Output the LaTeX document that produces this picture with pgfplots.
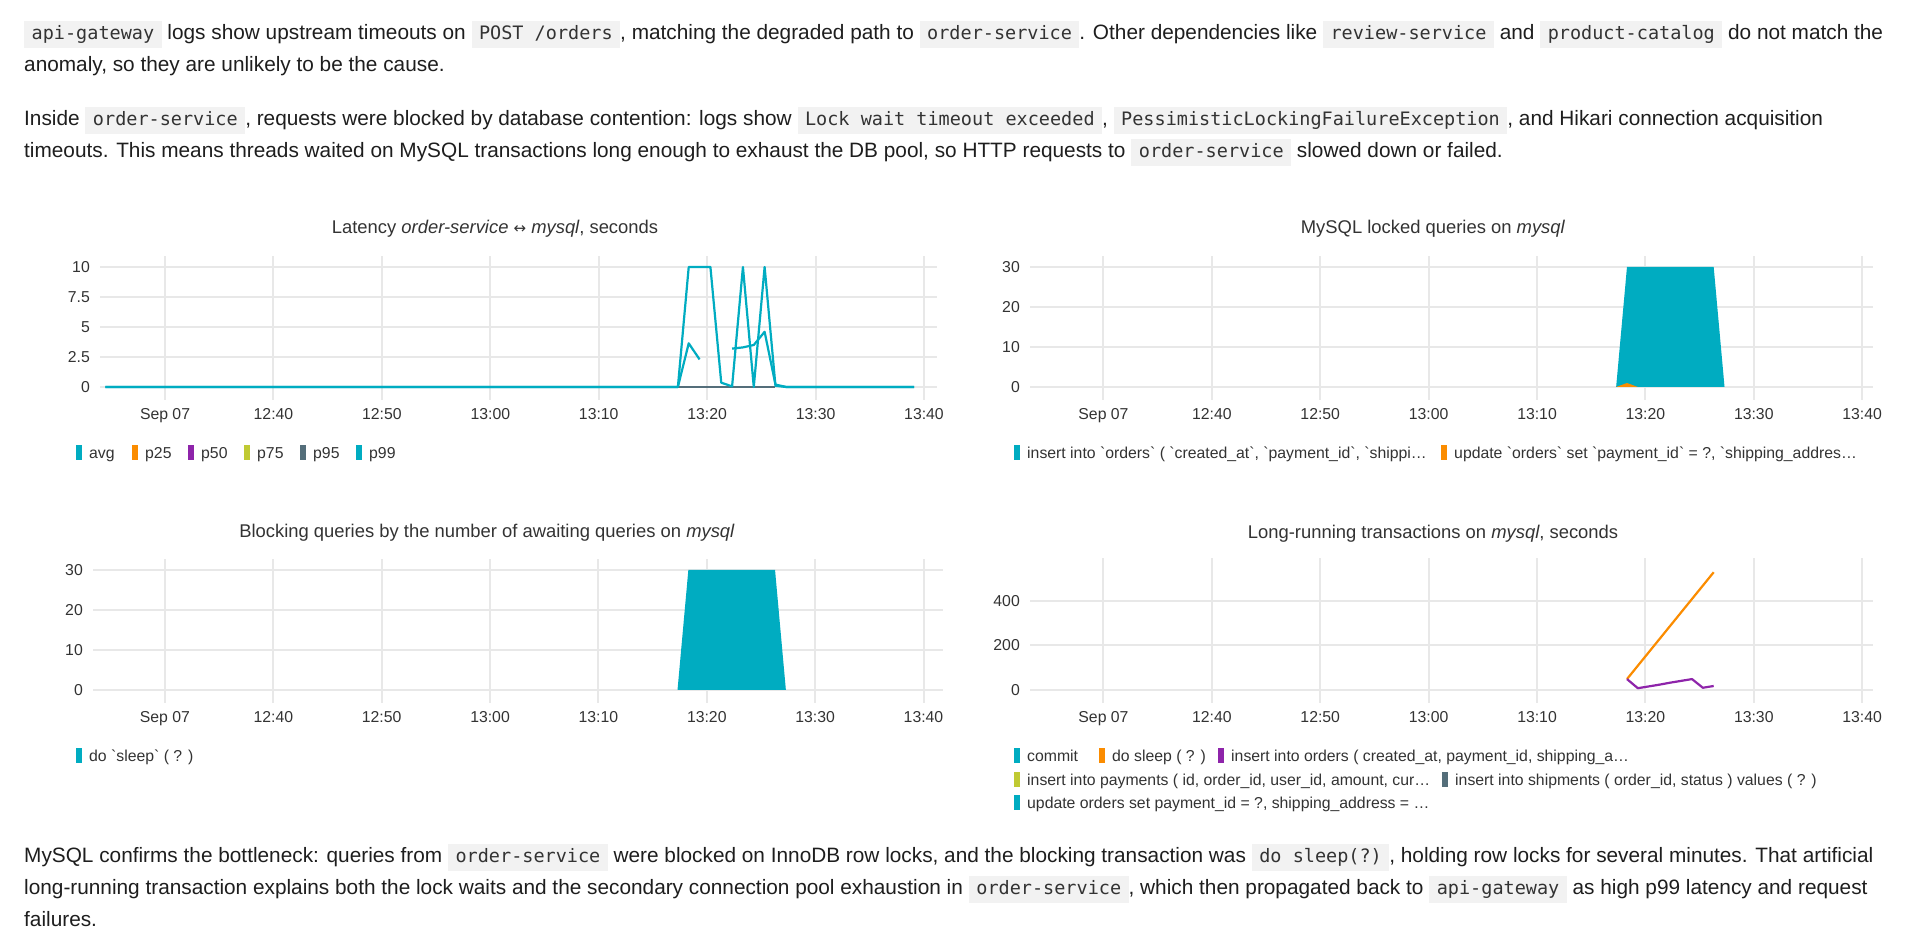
\documentclass[border=0pt]{standalone}
\usepackage{pgfplots}
\pgfplotsset{compat=1.18}
\usepackage{fontspec}
\setmainfont{Liberation Sans}[Ligatures=TeXOff]
\newfontfamily\monofont{DejaVu Sans Mono}
\newfontfamily\arrowfont{DejaVu Sans}

\definecolor{cteal}{HTML}{00ACC1}
\definecolor{corange}{HTML}{FB8C00}
\definecolor{cpurple}{HTML}{8E24AA}
\definecolor{clime}{HTML}{C0CA33}
\definecolor{cslate}{HTML}{546E7A}
\definecolor{cgrid}{HTML}{E8E8E8}
\definecolor{ctext}{HTML}{333333}
\definecolor{cbody}{HTML}{1E1E1E}
\definecolor{cchip}{HTML}{F2F2F2}

\newcommand\bodysize{\fontsize{20.8pt}{24pt}\selectfont}
\newcommand\ticksize{\fontsize{15.8pt}{19pt}\selectfont}
\newcommand\titlesize{\fontsize{18.4pt}{22pt}\selectfont}
\newcommand\code[1]{{\setlength\fboxsep{0pt}\colorbox{cchip}{\rule[-8pt]{0pt}{27pt}\hspace{7.5pt}{\monofont\fontsize{18.5pt}{22pt}\selectfont\color{ctext}#1}\hspace{7.5pt}}}}
\def\bq{\char"60\relax}

% latency order-service <-> mysql (minutes after 12:00)
\pgfplotstableread{
x y
24.5 0
77.3 0
78.3 3.64
79.3 2.3
80.3 nan
81.3 nan
82.3 3.2
83.3 3.3
84.3 3.5
85.3 4.6
86.3 0.2
87.3 0
99.1 0
}\latavg
\pgfplotstableread{
x y
77.3 0
78.3 0
79.3 0
80.3 0
81.3 0
82.3 0
83.3 0
84.3 0
85.3 0
86.3 0
}\latlow
\pgfplotstableread{
x y
24.5 0
77.3 0
78.3 10
79.3 10
80.3 10
81.3 0.36
82.3 0.05
83.3 10
84.3 0
85.3 10
86.3 0.1
87.3 0
99.1 0
}\latpnn
\pgfplotstableread{
x y
77.3 0
78.3 30
79.3 30
80.3 30
81.3 30
82.3 30
83.3 30
84.3 30
85.3 30
86.3 30
87.3 0
}\locked
\pgfplotstableread{
x y
77.3 0
78.3 1
79.3 0
}\lockedupd
\pgfplotstableread{
x y
78.3 49
79.3 109
80.3 169
81.3 229
82.3 289
83.3 349
84.3 409
85.3 469
86.3 529
}\longsleep
\pgfplotstableread{
x y
78.3 49
79.3 8
80.3 16
81.3 24
82.3 33
83.3 41
84.3 49
85.3 10
86.3 18
}\longins

\pgfplotsset{
  panel/.style={
    scale only axis, anchor=north west,
    axis line style={draw=none}, major tick style={draw=none},
    xmajorgrids, ymajorgrids, grid style={cgrid, line width=2pt},
    xtick={30,40,50,60,70,80,90,100},
    xticklabels={Sep 07,12:40,12:50,13:00,13:10,13:20,13:30,13:40},
    ticklabel style={font=\ticksize, text=ctext, inner sep=0pt},
    xticklabel style={anchor=base, yshift=-19.5pt},
    yticklabel style={anchor=base east, xshift=-10pt, yshift=-5.5pt},
    unbounded coords=jump,
  },
  ln/.style={line width=2.2pt, line join=round, no markers},
}

\newcommand\sw[3]{% swatch x, y(center), colour
  \fill[#3] (#1pt-3pt,#2pt-7.5pt) rectangle (#1pt+3pt,#2pt+7.5pt);}
\newcommand\legit[4]{% x, y(center), colour, text
  \sw{#1}{#2}{#3}
  \node[anchor=base west, inner sep=0pt, font=\ticksize, text=ctext] at (#1pt+10pt,#2pt-5.5pt) {#4};}

\begin{document}
\begin{tikzpicture}
\path[use as bounding box, fill=white] (0,0) rectangle (1920pt,944pt);

\begin{scope}[every node/.style={anchor=base west, inner sep=0pt, font=\bodysize, text=cbody}]
\node at (24pt,904pt) {\code{api-gateway} logs show upstream timeouts on \code{POST /orders}, matching the degraded path to \code{order-service}. Other dependencies like \code{review-service} and \code{product-catalog} do not match the};
\node at (24pt,872pt) {anomaly, so they are unlikely to be the cause.};
\node at (24pt,818pt) {Inside \code{order-service}, requests were blocked by database contention: logs show \code{Lock wait timeout exceeded}, \code{PessimisticLockingFailureException}, and Hikari connection acquisition};
\node at (24pt,786pt) {timeouts. This means threads waited on MySQL transactions long enough to exhaust the DB pool, so HTTP requests to \code{order-service} slowed down or failed.};
\node at (24pt,81pt) {MySQL confirms the bottleneck: queries from \code{order-service} were blocked on InnoDB row locks, and the blocking transaction was \code{do sleep(?)}, holding row locks for several minutes. That artificial};
\node at (24pt,49pt) {long-running transaction explains both the lock waits and the secondary connection pool exhaustion in \code{order-service}, which then propagated back to \code{api-gateway} as high p99 latency and request};
\node at (24pt,17pt) {failures.};
\end{scope}

\begin{scope}[every node/.style={anchor=base, inner sep=0pt, font=\titlesize, text=ctext}]
\node at (495pt,710pt) {Latency \textit{order-service} {\arrowfont\fontsize{15pt}{18pt}\selectfont ↔} \textit{mysql}, seconds};
\node at (1433pt,710pt) {MySQL locked queries on \textit{mysql}};
\node at (487pt,406pt) {Blocking queries by the number of awaiting queries on \textit{mysql}};
\node at (1433pt,405pt) {Long-running transactions on \textit{mysql}, seconds};
\end{scope}

% chart 1
\begin{axis}[panel, at={(100pt,688pt)}, width=837pt, height=144pt,
  xmin=24.0, xmax=101.2, ymin=-1.083, ymax=10.917,
  ytick={0,2.5,5,7.5,10}, yticklabels={0,2.5,5,7.5,10}]
\addplot[ln, cteal] table {\latavg};
\addplot[ln, corange] table {\latlow};
\addplot[ln, cpurple] table {\latlow};
\addplot[ln, clime] table {\latlow};
\addplot[ln, cslate] table {\latlow};
\addplot[ln, cteal] table {\latpnn};
\end{axis}

% chart 2
\begin{axis}[panel, at={(1030pt,688pt)}, width=843pt, height=144pt,
  xmin=23.22, xmax=101.0, ymin=-3.25, ymax=32.75,
  ytick={0,10,20,30}, yticklabels={0,10,20,30}]
\addplot[fill=cteal, draw=none] table {\locked} \closedcycle;
\addplot[fill=corange, draw=none] table {\lockedupd} \closedcycle;
\end{axis}

% chart 3
\begin{axis}[panel, at={(93pt,385pt)}, width=850pt, height=144pt,
  xmin=23.36, xmax=101.8, ymin=-3.25, ymax=32.75,
  ytick={0,10,20,30}, yticklabels={0,10,20,30}]
\addplot[fill=cteal, draw=none] table {\locked} \closedcycle;
\end{axis}

% chart 4
\begin{axis}[panel, at={(1030pt,386pt)}, width=843pt, height=145pt,
  xmin=23.22, xmax=101.0, ymin=-58.4, ymax=593,
  ytick={0,200,400}, yticklabels={0,200,400}]
\addplot[ln, corange] table {\longsleep};
\addplot[ln, cpurple] table {\longins};
\end{axis}

% legends
\legit{79}{491}{cteal}{avg}
\legit{135}{491}{corange}{p25}
\legit{191}{491}{cpurple}{p50}
\legit{247}{491}{clime}{p75}
\legit{303}{491}{cslate}{p95}
\legit{359}{491}{cteal}{p99}

\legit{1017}{491}{cteal}{insert into \bq orders\bq\ ( \bq created\_at\bq, \bq payment\_id\bq, \bq shippi…}
\legit{1444}{491}{corange}{update \bq orders\bq\ set \bq payment\_id\bq\ = ?, \bq shipping\_addres…}

\legit{79}{188}{cteal}{do \bq sleep\bq\ ( ? )}

\legit{1017}{188}{cteal}{commit}
\legit{1102}{188}{corange}{do sleep ( ? )}
\legit{1221}{188}{cpurple}{insert into orders ( created\_at, payment\_id, shipping\_a…}
\legit{1017}{164}{clime}{insert into payments ( id, order\_id, user\_id, amount, cur…}
\legit{1445}{164}{cslate}{insert into shipments ( order\_id, status ) values ( ? )}
\legit{1017}{141}{cteal}{update orders set payment\_id = ?, shipping\_address = …}
\end{tikzpicture}
\end{document}
